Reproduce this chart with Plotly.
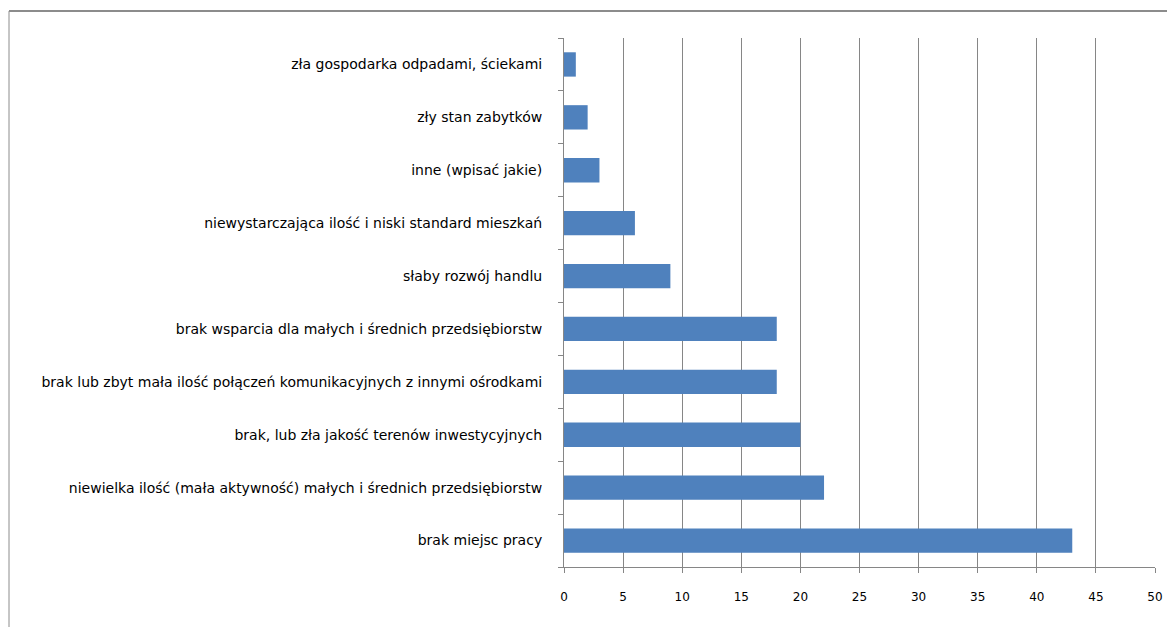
import plotly.graph_objects as go

categories = [
    "brak miejsc pracy",
    "niewielka ilość (mała aktywność) małych i średnich przedsiębiorstw",
    "brak, lub zła jakość terenów inwestycyjnych",
    "brak lub zbyt mała ilość połączeń komunikacyjnych z innymi ośrodkami",
    "brak wsparcia dla małych i średnich przedsiębiorstw",
    "słaby rozwój handlu",
    "niewystarczająca ilość i niski standard mieszkań",
    "inne (wpisać jakie)",
    "zły stan zabytków",
    "zła gospodarka odpadami, ściekami",
]
values = [43, 22, 20, 18, 18, 9, 6, 3, 2, 1]
x_ticks = [0, 5, 10, 15, 20, 25, 30, 35, 40, 45, 50]

# page has an 8px body margin, so the figure is shifted by 8px
W, H = 1167, 619
L, R, T, B = 556, 20, 30, 60
pw, ph = W - L - R, H - T - B

fig = go.Figure(go.Bar(
    x=values, y=categories, orientation="h",
    marker=dict(color="#4F81BD", line=dict(width=0)),
    width=0.46,
))

grid = "#868686"
fig.update_layout(
    width=W, height=H,
    margin=dict(l=L, r=R, t=T, b=B),
    paper_bgcolor="white", plot_bgcolor="white",
    font=dict(family="DejaVu Sans, sans-serif", size=14, color="#000000"),
    showlegend=False,
    xaxis=dict(
        range=[0, 50], tickvals=x_ticks, ticktext=[str(v) for v in x_ticks],
        showgrid=True, gridcolor=grid, gridwidth=1,
        showline=True, linecolor=grid, linewidth=1,
        ticks="outside", ticklen=5, tickcolor=grid,
        zeroline=False, ticklabelstandoff=14,
        tickfont=dict(size=12),
    ),
    yaxis=dict(
        type="category", categoryorder="array", categoryarray=categories,
        range=[-0.5, 9.5],
        showgrid=False, showline=True, linecolor=grid, linewidth=1,
        ticks="outside", ticklen=5, tickcolor=grid, tickson="boundaries",
        ticklabelstandoff=18,
    ),
    shapes=[
        dict(type="line", xref="paper", yref="paper",
             x0=(1 - L) / pw, x1=(W + 5 - L) / pw,
             y0=1 + (T - 3) / ph, y1=1 + (T - 3) / ph,
             line=dict(color="#8c8c8c", width=2)),
        dict(type="line", xref="paper", yref="paper",
             x0=(1 - L) / pw, x1=(1 - L) / pw,
             y0=1 + (T - 3) / ph, y1=-(B + 5) / ph,
             line=dict(color="#8c8c8c", width=1)),
    ],
)

fig.write_html("out.html")
